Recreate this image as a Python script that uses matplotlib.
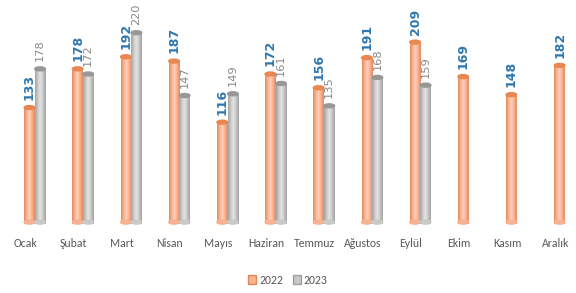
import numpy as np
import matplotlib.pyplot as plt
from matplotlib.colors import LinearSegmentedColormap
from matplotlib.patches import Ellipse, Patch

months = ["Ocak", "Şubat", "Mart", "Nisan", "Mayıs", "Haziran",
          "Temmuz", "Ağustos", "Eylül", "Ekim", "Kasım", "Aralık"]
sales_2022 = [133, 178, 192, 187, 116, 172, 156, 191, 209, 169, 148, 182]
sales_2023 = [178, 172, 220, 147, 149, 161, 135, 168, 159]

calibri = ["Carlito", "DejaVu Sans"]

orange_cmap = LinearSegmentedColormap.from_list(
    "org", ["#e6895c", "#f7b391", "#fcd2bc", "#f6af8c", "#e4865a"])
gray_cmap = LinearSegmentedColormap.from_list(
    "gry", ["#a2a2a2", "#c9c9c9", "#e6e6e6", "#c6c6c6", "#a0a0a0"])
grad = np.linspace(0, 1, 64).reshape(1, -1)

fig = plt.figure(figsize=(5.76, 2.93), dpi=100)
ax = fig.add_axes([0, 0.2307, 1, 0.7693])

w = 0.22
x = np.arange(len(months))


def cylinder(xc, h, cmap, cap, label_color, bold):
    bars = ax.bar(xc, h, width=w, color="none", edgecolor="none")
    for b, val in zip(bars, h):
        x0 = b.get_x()
        im = ax.imshow(grad, extent=[x0, x0 + w, -2.3, val], aspect="auto",
                       cmap=cmap, interpolation="bicubic", zorder=2)
        clip = plt.Rectangle((x0, -2.3), w, val + 2.3, transform=ax.transData)
        im.set_clip_path(clip)
        ax.add_patch(Ellipse((x0 + w / 2, -0.2), w, 4.6,
                             color=cmap(0.25), zorder=2))
        ax.add_patch(Ellipse((x0 + w / 2, val), w, 4.6,
                             color=cap, zorder=3))
        ax.annotate(str(val), (x0 + w / 2, val), xytext=(0, 5.5),
                    textcoords="offset points", rotation=90,
                    ha="center", va="bottom", color=label_color,
                    fontsize=9 if bold else 8.2,
                    fontweight="bold" if bold else "normal")


cylinder(x[:len(sales_2022)] + 0.09, sales_2022, orange_cmap, "#e8874f",
         "#2f77b0", True)
cylinder(x[:len(sales_2023)] + 0.31, sales_2023, gray_cmap, "#979797",
         "#888888", False)

ax.set_xlim(-0.52, 11.43)
ax.set_ylim(-4, 258)
ax.set_xticks(x)
ax.set_xticklabels(months, family=calibri, fontsize=8.5, color="#595959")
ax.tick_params(axis="x", length=0, pad=9)
ax.set_yticks([])
for s in ax.spines.values():
    s.set_visible(False)

handles = [Patch(facecolor="#f7b391", edgecolor="#e4865a", label="2022"),
           Patch(facecolor="#c9c9c9", edgecolor="#a0a0a0", label="2023")]
fig.legend(handles=handles, loc="center", bbox_to_anchor=(0.5, 0.044),
           ncol=2, frameon=False, handlelength=0.7, handleheight=0.9,
           handletextpad=0.25, columnspacing=0.8,
           prop={"family": calibri, "size": 8.5}, labelcolor="#595959")

fig.savefig("out.png", dpi=100)
